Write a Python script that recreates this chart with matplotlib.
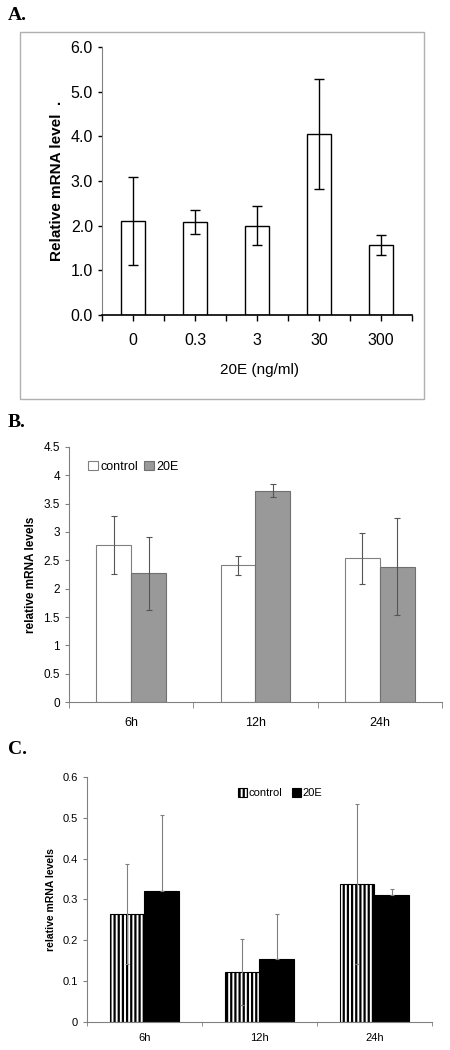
import numpy as np
import matplotlib
matplotlib.use("Agg")
import matplotlib.pyplot as plt
from matplotlib.patches import Rectangle

plt.rcParams['font.family'] = ['Liberation Sans', 'DejaVu Sans']
plt.rcParams['hatch.linewidth'] = 1.6

# panel A data
dose_labels = ['0', '0.3', '3', '30', '300']
dose_mean = [2.11, 2.08, 2.00, 4.05, 1.57]
dose_err = [0.98, 0.26, 0.43, 1.23, 0.23]

# panel B data
time_labels = ['6h', '12h', '24h']
b_control = [2.77, 2.41, 2.54]
b_control_err = [0.51, 0.17, 0.45]
b_20e = [2.27, 3.73, 2.39]
b_20e_err = [0.64, 0.11, 0.85]

# panel C data
c_control = [0.265, 0.122, 0.338]
c_control_err = [0.123, 0.081, 0.197]
c_20e = [0.322, 0.155, 0.310]
c_20e_err = [0.185, 0.110, 0.015]

fig = plt.figure(figsize=(4.5, 10.5), dpi=100)

# ---------- A ----------
fig.patches.append(Rectangle((0.0444, 0.620), 0.8978, 0.3495, transform=fig.transFigure,
                             fill=False, edgecolor='#b0b0b0', linewidth=1.0))
fig.text(0.018, 0.985, 'A.', family='Liberation Serif', fontweight='bold', fontsize=14, va='center')

axA = fig.add_axes([0.2267, 0.700, 0.689, 0.2552])
x = np.arange(len(dose_labels))
axA.bar(x, dose_mean, width=0.4, color='white', edgecolor='black', linewidth=1.0)
axA.errorbar(x, dose_mean, yerr=dose_err, fmt='none', ecolor='black', elinewidth=1.0, capsize=3.5, capthick=1.0)
axA.set_xlim(-0.5, 4.5)
axA.set_ylim(0, 6)
axA.set_yticks(np.arange(0, 6.1, 1.0))
axA.set_yticklabels(['%.1f' % v for v in np.arange(0, 6.1, 1.0)], fontsize=11.5)
axA.set_xticks(np.arange(-0.5, 4.6, 0.5))
axA.set_xticklabels([''] * 11)
for i, lab in enumerate(dose_labels):
    axA.text(i, -0.40, lab, ha='center', va='top', fontsize=11.5)
axA.tick_params(axis='x', direction='out', length=4, width=1)
axA.tick_params(axis='y', direction='out', length=3, width=1)
for s in ['top', 'right']:
    axA.spines[s].set_visible(False)
axA.spines['left'].set_color('#808080')
axA.spines['bottom'].set_linewidth(1.2)
axA.set_ylabel('Relative mRNA level  .', fontsize=11, fontweight='bold', labelpad=5)
fig.text(0.5756, 1 - 370 / 1050, '20E (ng/ml)', ha='center', va='center', fontsize=11)

# ---------- B ----------
fig.text(0.018, 1 - 422 / 1050, 'B.', family='Liberation Serif', fontweight='bold', fontsize=14, va='center')
axB = fig.add_axes([0.1533, 0.3314, 0.8289, 0.2429])
xb = np.arange(len(time_labels))
w = 0.28
axB.bar(xb - w / 2, b_control, width=w, color='white', edgecolor='#808080', linewidth=0.8, label='control')
axB.bar(xb + w / 2, b_20e, width=w, color='#999999', edgecolor='#707070', linewidth=0.8, label='20E')
axB.errorbar(xb - w / 2, b_control, yerr=b_control_err, fmt='none', ecolor='#555555', elinewidth=0.8, capsize=2, capthick=0.8)
axB.errorbar(xb + w / 2, b_20e, yerr=b_20e_err, fmt='none', ecolor='#555555', elinewidth=0.8, capsize=2, capthick=0.8)
axB.set_xlim(-0.5, 2.5)
axB.set_ylim(0, 4.5)
axB.set_yticks(np.arange(0, 4.6, 0.5))
axB.set_yticklabels(['0', '0.5', '1', '1.5', '2', '2.5', '3', '3.5', '4', '4.5'], fontsize=8.5)
axB.set_xticks(xb)
axB.set_xticklabels(time_labels, fontsize=9)
axB.set_xticks([-0.5, 0.5, 1.5, 2.5], minor=True)
axB.tick_params(axis='x', which='major', length=0, pad=11)
axB.tick_params(axis='x', which='minor', direction='out', length=4, color='#808080')
axB.tick_params(axis='y', direction='out', length=3, color='#808080')
for s in ['top', 'right']:
    axB.spines[s].set_visible(False)
for s in ['left', 'bottom']:
    axB.spines[s].set_color('#808080')
axB.set_ylabel('relative mRNA levels', fontsize=8.5, fontweight='bold', labelpad=5)
axB.legend(loc='upper left', bbox_to_anchor=(0.02, 0.99), ncol=2, frameon=False, fontsize=9,
           handlelength=0.8, handleheight=0.8, handletextpad=0.2, columnspacing=0.5)

# ---------- C ----------
fig.text(0.018, 1 - 750 / 1050, 'C.', family='Liberation Serif', fontweight='bold', fontsize=14, va='center')
axC = fig.add_axes([0.1933, 0.0267, 0.7667, 0.2333])
xc = np.arange(len(time_labels))
w = 0.3
axC.bar(xc - w / 2, c_control, width=w, color='white', edgecolor='black', hatch='||||', linewidth=0.8, label='control')
axC.bar(xc + w / 2, c_20e, width=w, color='black', edgecolor='black', linewidth=0.8, label='20E')
axC.errorbar(xc - w / 2, c_control, yerr=c_control_err, fmt='none', ecolor='#808080', elinewidth=0.8, capsize=1.5, capthick=0.8)
axC.errorbar(xc + w / 2, c_20e, yerr=[[0] * 3, c_20e_err], fmt='none', ecolor='#808080', elinewidth=0.8, capsize=1.5, capthick=0.8)
axC.set_xlim(-0.5, 2.5)
axC.set_ylim(0, 0.6)
axC.set_yticks(np.arange(0, 0.61, 0.1))
axC.set_yticklabels(['0', '0.1', '0.2', '0.3', '0.4', '0.5', '0.6'], fontsize=8)
axC.set_xticks(xc)
axC.set_xticklabels(time_labels, fontsize=8)
axC.set_xticks([-0.5, 0.5, 1.5, 2.5], minor=True)
axC.tick_params(axis='x', which='major', length=0, pad=8)
axC.tick_params(axis='x', which='minor', direction='out', length=3, color='#808080')
axC.tick_params(axis='y', direction='out', length=3, color='#808080')
for s in ['top', 'right']:
    axC.spines[s].set_visible(False)
for s in ['left', 'bottom']:
    axC.spines[s].set_color('#808080')
axC.set_ylabel('relative mRNA levels', fontsize=7.5, fontweight='bold', labelpad=5)
axC.legend(loc='upper center', bbox_to_anchor=(0.56, 0.995), ncol=2, frameon=False, fontsize=8,
           handlelength=0.8, handleheight=0.8, handletextpad=0.2, columnspacing=0.8)

fig.savefig('out.png', dpi=100)
